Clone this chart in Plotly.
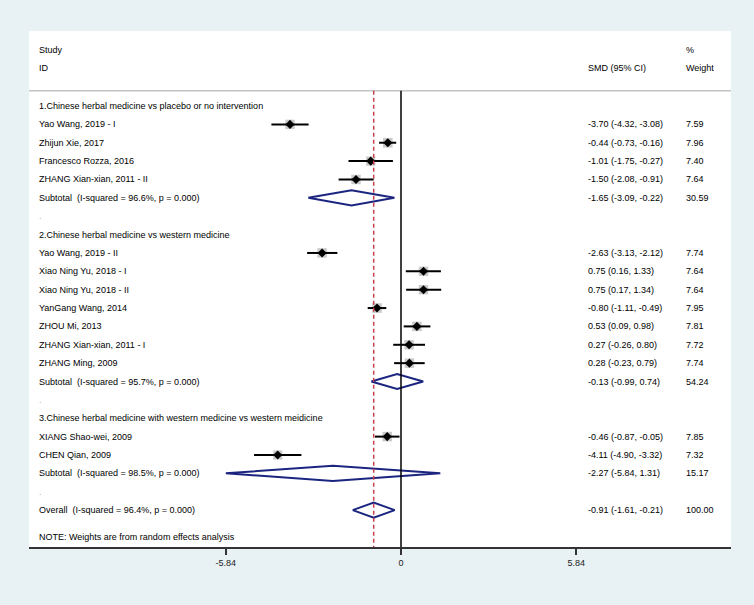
import math
import plotly.graph_objects as go

# ---------------- data ----------------
group_titles = [
    "1.Chinese herbal medicine vs placebo or no intervention",
    "2.Chinese herbal medicine vs western medicine",
    "3.Chinese herbal medicine with western medicine vs western meidicine",
]

g1_names = ["Yao Wang, 2019 - I", "Zhijun Xie, 2017", "Francesco Rozza, 2016", "ZHANG Xian-xian, 2011 - II"]
g1_smd = [-3.70, -0.44, -1.01, -1.50]
g1_lo = [-4.32, -0.73, -1.75, -2.08]
g1_hi = [-3.08, -0.16, -0.27, -0.91]
g1_wt = [7.59, 7.96, 7.40, 7.64]

g2_names = ["Yao Wang, 2019 - II", "Xiao Ning Yu, 2018 - I", "Xiao Ning Yu, 2018 - II", "YanGang Wang, 2014",
            "ZHOU Mi, 2013", "ZHANG Xian-xian, 2011 - I", "ZHANG Ming, 2009"]
g2_smd = [-2.63, 0.75, 0.75, -0.80, 0.53, 0.27, 0.28]
g2_lo = [-3.13, 0.16, 0.17, -1.11, 0.09, -0.26, -0.23]
g2_hi = [-2.12, 1.33, 1.34, -0.49, 0.98, 0.80, 0.79]
g2_wt = [7.74, 7.64, 7.64, 7.95, 7.81, 7.72, 7.74]

g3_names = ["XIANG Shao-wei, 2009", "CHEN Qian, 2009"]
g3_smd = [-0.46, -4.11]
g3_lo = [-0.87, -4.90]
g3_hi = [-0.05, -3.32]
g3_wt = [7.85, 7.32]

subtotal_i2 = ["96.6%", "95.7%", "98.5%"]
subtotal_smd = [-1.65, -0.13, -2.27]
subtotal_lo = [-3.09, -0.99, -5.84]
subtotal_hi = [-0.22, 0.74, 1.31]
subtotal_wt = [30.59, 54.24, 15.17]

overall_i2 = "96.4%"
overall_smd = -0.91
overall_lo = -1.61
overall_hi = -0.21
overall_wt = 100.00

x_ticks = [-5.84, 0, 5.84]
x_tick_labels = ["-5.84", "0", "5.84"]

# ---------------- styling ----------------
FONT = "Liberation Sans, Arial, sans-serif"
FS = 9
TXT = "#000000"
BG = "#E8F1F4"
NAVY = "#1B2580"
RED = "#C9404E"
X_LABEL = -12.13
X_CI = 6.17
X_WT = 9.43
HEADER_Y = -0.83
Y_TOP = -4.084
Y_BOT = 24.01
DIAM_H = 0.41

groups = [
    (g1_names, g1_smd, g1_lo, g1_hi, g1_wt),
    (g2_names, g2_smd, g2_lo, g2_hi, g2_wt),
    (g3_names, g3_smd, g3_lo, g3_hi, g3_wt),
]

rows = []
for gi, (names, smd, lo, hi, wt) in enumerate(groups):
    rows.append(("head", group_titles[gi], None, None, None, None))
    for n, e, l, h, w in zip(names, smd, lo, hi, wt):
        rows.append(("study", n, e, l, h, w))
    rows.append(("sub", "Subtotal\u00a0 (I-squared = %s, p = 0.000)" % subtotal_i2[gi],
                 subtotal_smd[gi], subtotal_lo[gi], subtotal_hi[gi], subtotal_wt[gi]))
    rows.append(("dot", ".", None, None, None, None))
rows.append(("sub", "Overall\u00a0 (I-squared = %s, p = 0.000)" % overall_i2,
             overall_smd, overall_lo, overall_hi, overall_wt))

fig = go.Figure()

sx, sy, ss, ep, em = [], [], [], [], []
dx, dy = [], []
annotations = []
for r, (kind, label, e, l, h, w) in enumerate(rows):
    color = "#AAAAAA" if kind == "dot" else TXT
    annotations.append(dict(x=X_LABEL, y=r, xref="x", yref="y", text=label, showarrow=False,
                            xanchor="left", yanchor="middle", font=dict(family=FONT, size=FS, color=color)))
    if e is None:
        continue
    annotations.append(dict(x=X_CI, y=r, xref="x", yref="y", text="%.2f (%.2f, %.2f)" % (e, l, h),
                            showarrow=False, xanchor="left", yanchor="middle",
                            font=dict(family=FONT, size=FS, color=TXT)))
    annotations.append(dict(x=X_WT, y=r, xref="x", yref="y", text="%.2f" % w,
                            showarrow=False, xanchor="left", yanchor="middle",
                            font=dict(family=FONT, size=FS, color=TXT)))
    if kind == "study":
        sx.append(e); sy.append(r); ss.append(3.4 * math.sqrt(w))
        ep.append(h - e); em.append(e - l)
    else:
        dx += [l, e, h, e, l, None]
        dy += [r, r - DIAM_H, r, r + DIAM_H, r, None]

# weight boxes
fig.add_trace(go.Scatter(x=sx, y=sy, mode="markers",
                         marker=dict(symbol="square", size=ss, color="#B4B4B4", line=dict(width=0)),
                         hoverinfo="skip"))
# point estimates with CIs
fig.add_trace(go.Scatter(x=sx, y=sy, mode="markers",
                         marker=dict(symbol="diamond", size=7, color="#000000"),
                         error_x=dict(type="data", symmetric=False, array=ep, arrayminus=em,
                                      color="#000000", thickness=2, width=0),
                         hoverinfo="skip"))
# pooled diamonds
fig.add_trace(go.Scatter(x=dx, y=dy, mode="lines", line=dict(color=NAVY, width=2),
                         hoverinfo="skip"))

# header texts
for txt, x, y in [("Study", X_LABEL, -3.05), ("ID", X_LABEL, -2.07), ("SMD (95% CI)", X_CI, -2.07),
                  ("%", X_WT, -3.05), ("Weight", X_WT, -2.07)]:
    annotations.append(dict(x=x, y=y, xref="x", yref="y", text=txt, showarrow=False,
                            xanchor="left", yanchor="middle", font=dict(family=FONT, size=FS, color=TXT)))
annotations.append(dict(x=X_LABEL, y=23.45, xref="x", yref="y",
                        text="NOTE: Weights are from random effects analysis", showarrow=False,
                        xanchor="left", yanchor="middle", font=dict(family=FONT, size=FS, color=TXT)))

shapes = [
    dict(type="line", xref="paper", yref="y", x0=0, x1=1, y0=HEADER_Y, y1=HEADER_Y,
         line=dict(color="#C4C4C4", width=1.5)),
    dict(type="line", xref="x", yref="y", x0=0, x1=0, y0=HEADER_Y, y1=Y_BOT,
         line=dict(color="#000000", width=1.5)),
    dict(type="line", xref="x", yref="y", x0=overall_smd, x1=overall_smd, y0=HEADER_Y, y1=Y_BOT,
         line=dict(color=RED, width=1.5, dash="4px,3px")),
]

fig.update_layout(
    width=754, height=605,
    margin=dict(l=29, r=23, t=31, b=58, pad=0),
    paper_bgcolor=BG, plot_bgcolor="#FFFFFF",
    showlegend=False,
    annotations=annotations, shapes=shapes,
    xaxis=dict(range=[-12.4, 11.0], tickvals=x_ticks, ticktext=x_tick_labels,
               showgrid=False, zeroline=False, showline=True, linecolor="#333333", linewidth=2,
               ticks="outside", ticklen=6, tickwidth=2, tickcolor="#333333",
               tickfont=dict(family=FONT, size=FS, color="#222222"), fixedrange=True),
    yaxis=dict(range=[Y_BOT, Y_TOP], visible=False, showgrid=False, zeroline=False, fixedrange=True),
)

fig.write_html("out.html",
               config={"displayModeBar": False, "staticPlot": True},
               post_script="document.body.style.margin='0';document.body.style.background='%s';"
                           "document.body.style.overflow='hidden';" % BG)
